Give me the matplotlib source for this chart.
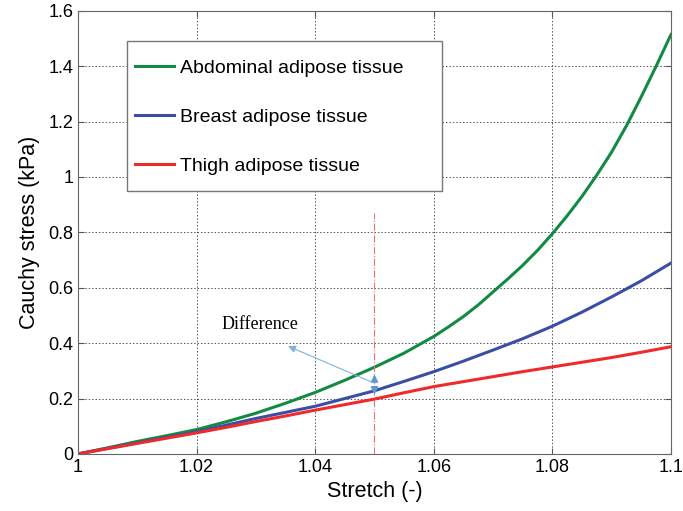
import matplotlib
matplotlib.use('Agg')
import matplotlib.pyplot as plt
from matplotlib.patches import Rectangle

plt.rcParams['font.family'] = ['Liberation Sans', 'DejaVu Sans']

# Stretch values and Cauchy stress (kPa) for each tissue
stretch = [1.000, 1.005, 1.010, 1.015, 1.020, 1.025, 1.030, 1.035, 1.040, 1.045, 1.050,
           1.055, 1.060, 1.065, 1.070, 1.075, 1.080, 1.085, 1.090, 1.095, 1.100]
breast = [0.000, 0.020, 0.040, 0.060, 0.080, 0.104, 0.128, 0.150, 0.172, 0.200, 0.228,
          0.262, 0.297, 0.335, 0.375, 0.416, 0.461, 0.512, 0.567, 0.625, 0.689]
thigh = [0.000, 0.019, 0.038, 0.057, 0.076, 0.096, 0.117, 0.137, 0.158, 0.178, 0.198,
         0.221, 0.243, 0.261, 0.279, 0.297, 0.314, 0.331, 0.348, 0.367, 0.387]

# abdominal curve bends sharply, so it is sampled more finely at large stretch
stretch_abd = [1.000, 1.005, 1.010, 1.015, 1.020, 1.025, 1.030, 1.035, 1.040, 1.045, 1.050,
               1.055, 1.060, 1.0625, 1.065, 1.0675, 1.070, 1.0725, 1.075, 1.0775, 1.080,
               1.0825, 1.085, 1.0875, 1.090, 1.0925, 1.095, 1.0975, 1.100]
abdominal = [0.000, 0.022, 0.045, 0.066, 0.088, 0.116, 0.147, 0.183, 0.222, 0.266, 0.313,
             0.364, 0.424, 0.459, 0.496, 0.538, 0.585, 0.632, 0.681, 0.735, 0.795,
             0.860, 0.930, 1.007, 1.090, 1.185, 1.290, 1.400, 1.514]

labels = ['Abdominal adipose tissue', 'Breast adipose tissue', 'Thigh adipose tissue']
colors = ['#128a43', '#3b4ea6', '#ee2a2a']

xticks = [1, 1.02, 1.04, 1.06, 1.08, 1.1]
xticklabels = ['1', '1.02', '1.04', '1.06', '1.08', '1.1']
yticks = [0, 0.2, 0.4, 0.6, 0.8, 1.0, 1.2, 1.4, 1.6]
yticklabels = ['0', '0.2', '0.4', '0.6', '0.8', '1', '1.2', '1.4', '1.6']

fig = plt.figure(figsize=(6.83, 5.11), dpi=100)
ax = fig.add_axes([0.1142, 0.1117, 0.8682, 0.8673])

series = [(stretch_abd, abdominal), (stretch, breast), (stretch, thigh)]
for (xs, ys), lab, c in zip(series, labels, colors):
    ax.plot(xs, ys, color=c, lw=2.2, label=lab, solid_joinstyle='round')

ax.set_xlim(1, 1.1)
ax.set_ylim(0, 1.6)
ax.set_xticks(xticks)
ax.set_xticklabels(xticklabels)
ax.set_yticks(yticks)
ax.set_yticklabels(yticklabels)
ax.tick_params(direction='in', labelsize=13, top=True, right=True, color='#555555', length=4)
ax.grid(True, linestyle=(0, (1.5, 2)), color='#555555', lw=0.7)
for s in ax.spines.values():
    s.set_color('#666666')

ax.set_xlabel('Stretch (-)', fontsize=15.5, labelpad=4)
ax.set_ylabel('Cauchy stress (kPa)', fontsize=15.5, labelpad=6)

# vertical marker at stretch 1.05 and the difference arrows
ax.plot([1.05, 1.05], [0, 0.87], color='#f07070', lw=0.8, linestyle='-.')
arrow_col = '#5b9bd5'
ax.annotate('', xy=(1.05, 0.297), xytext=(1.05, 0.25),
            arrowprops=dict(arrowstyle='-|>', color=arrow_col, lw=1.0, mutation_scale=11))
ax.annotate('', xy=(1.05, 0.205), xytext=(1.05, 0.25),
            arrowprops=dict(arrowstyle='-|>', color=arrow_col, lw=1.0, mutation_scale=11))
ax.annotate('', xy=(1.035, 0.393), xytext=(1.05, 0.255),
            arrowprops=dict(arrowstyle='-|>', color='#7fb3e0', lw=0.8, mutation_scale=11))
ax.text(1.0307, 0.468, 'Difference', family='Liberation Serif', fontsize=13,
        ha='center', va='center')

# legend box drawn separately so it can keep the wide right margin
ax.add_patch(Rectangle((0.0826, 0.593), 0.5312, 0.3386, transform=ax.transAxes,
                       facecolor='white', edgecolor='#777777', lw=1.0, zorder=4.5))
leg = ax.legend(loc='upper left', bbox_to_anchor=(0.0961, 0.891), fontsize=14,
                frameon=False, labelspacing=1.63, handlelength=2.0, handletextpad=0.3,
                borderpad=0, borderaxespad=0)
leg.set_zorder(5)

fig.savefig('out.png', dpi=100)
